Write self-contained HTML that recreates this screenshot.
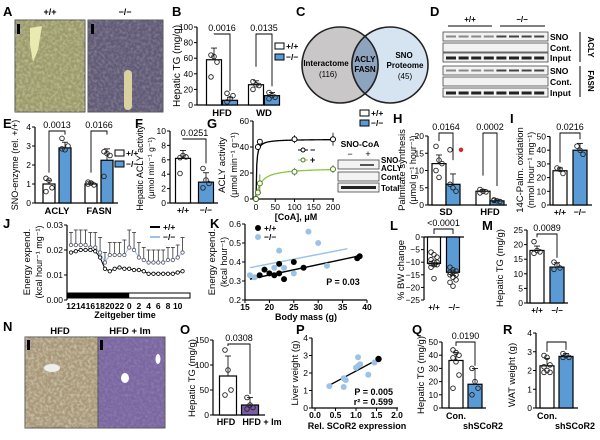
<!DOCTYPE html>
<html><head><meta charset="utf-8"><style>
html,body{margin:0;padding:0;background:#fff;}
svg{display:block;font-family:"Liberation Sans",Arial,sans-serif;}
</style></head><body>
<svg id="fig" width="600" height="440" viewBox="0 0 600 440">
<defs>
<filter id="tex" x="0" y="0" width="100%" height="100%"><feTurbulence type="fractalNoise" baseFrequency="0.35" numOctaves="2" seed="3"/><feColorMatrix type="matrix" values="0 0 0 0 1  0 0 0 0 1  0 0 0 0 0.8  0 0 0 -1.4 0.9"/></filter>
</defs>
<g id="hist">
<rect x="15" y="20" width="70" height="92" fill="#9a9a6a" stroke="#555"/>
<rect x="15" y="20" width="70" height="92" filter="url(#tex)" opacity="0.5"/>
<path d="M30 28 L42 26 L38 50 L33 62 L30 45 Z" fill="#e8eab0"/>
<rect x="88" y="20" width="75" height="92" fill="#615a78" stroke="#555"/>
<rect x="88" y="20" width="75" height="92" filter="url(#tex)" opacity="0.3"/>
<rect x="124" y="70" width="8" height="40" rx="4" fill="#d9d2a0"/>
<rect x="25" y="337" width="73" height="91" fill="#a8977a" stroke="#555"/>
<rect x="25" y="337" width="73" height="91" filter="url(#tex)" opacity="0.6"/>
<ellipse cx="52" cy="368" rx="8" ry="4" fill="#eee"/>
<rect x="98" y="337" width="67" height="91" fill="#7a66a2" stroke="#555"/>
<rect x="98" y="337" width="67" height="91" filter="url(#tex)" opacity="0.2"/>
<ellipse cx="125" cy="378" rx="4" ry="5" fill="#fff"/>
<ellipse cx="158" cy="359" rx="2.5" ry="5" fill="#fff"/>
<rect x="17" y="24" width="3" height="10" fill="#000"/>
<rect x="91" y="24" width="3" height="10" fill="#000"/>
<rect x="27" y="340" width="3" height="10" fill="#000"/>
<rect x="100" y="340" width="3" height="10" fill="#000"/>
</g>
</svg>
<script>
// ---------- data ----------
const bCats=["HFD","WD"];
const bMeansWT=[58,26], bMeansKO=[6,12], bErrWT=[15,5], bErrKO=[4,4];
const bDotsWT=[[64,62,55,36],[30,26,25,20]], bDotsKO=[[4,8,12,15],[16,12,10,8]];
const bP=["0.0016","0.0135"];
const eCats=["ACLY","FASN"];
const eMeansWT=[1.0,1.0], eMeansKO=[2.9,2.25], eErrWT=[0.2,0.1], eErrKO=[0.3,0.6];
const eDotsWT=[[1.3,1.2,0.8,0.6],[1.1,1.05,0.95,1.0]], eDotsKO=[[3.4,2.8,3.0,2.85],[2.7,2.6,2.5,1.4]];
const eP=["0.0013","0.0166"];
const fMeans=[6.2,2.9], fErr=[1.1,1.3], fDots=[[6.3,6.6,6.4,4.1],[4.8,3.2,2.7,2.1]];
const gX=[0,5,10,100,200], gMinus=[0,40,44,46,46], gPlus=[0,5,12,21,23], gErrMinus=[0,2,2,3,5], gErrPlus=[0,2,7,3,3];
const gVmax=[46,24], gKm=[1.5,12];
const hCats=["SD","HFD"];
const hMeansWT=[12,4], hMeansKO=[6,1.2], hErrWT=[2.5,0.5], hErrKO=[3,0.3];
const hDotsWT=[[17,13,12,10,8],[4.5,4,3.8,3.5]], hDotsKO=[[6,5,4,16],[1.5,1.2,1.0,1.3]];
const hP=["0.0164","0.0002"];
const iMeans=[25,40], iErr=[2,5], iDots=[[27,26,23],[43,40,37]];
const jTicks=["12","14","16","18","20","22","0","2","4","6","8","10"];
const jWT=[0.019,0.0195,0.02,0.02,0.02,0.0195,0.017,0.0125,0.0115,0.0125,0.013,0.0125,0.0125,0.012,0.012,0.0115,0.0105,0.0105,0.0105,0.0105,0.0105,0.0105,0.011,0.0115];
const jKO=[0.022,0.022,0.022,0.022,0.021,0.021,0.019,0.015,0.018,0.018,0.018,0.018,0.021,0.02,0.017,0.016,0.015,0.015,0.015,0.015,0.016,0.016,0.017,0.019];
const jErrKO=[0.005,0.006,0.006,0.006,0.006,0.006,0.006,0.004,0.005,0.005,0.005,0.006,0.007,0.007,0.006,0.005,0.005,0.005,0.005,0.005,0.005,0.005,0.005,0.006];
const kMassWT=[18,19,20,21,22,22,23,25,27,38.5,38], kEEWT=[0.33,0.36,0.34,0.33,0.34,0.39,0.31,0.4,0.37,0.43,0.42];
const kMassKO=[16,17,21,22,23,25,28,30,31.8], kEEKO=[0.33,0.32,0.37,0.46,0.37,0.34,0.56,0.5,0.38];
const kFitWT=[[16,0.31],[38,0.43]], kFitKO=[[16,0.37],[36,0.47]];
const lMeans=[-10.5,-14], lErr=[1,1.2];
const lDots=[[-6,-7,-8,-9,-10,-10,-10.5,-11,-11,-12,-16.5],[-12,-13,-13.5,-14,-14,-15,-15,-16,-17,-18,-19.5]];
const mMeans=[18,12.3], mErr=[1.5,1.5], mDots=[[21,18,17.5,17],[14,13,12,11.5]];
const oMeans=[78,20], oErr=[40,15], oDots=[[130,90,50,40],[35,20,15,12]];
const pX=[0.35,0.7,0.7,0.75,1.0,1.05,1.05,1.1,1.3,1.45], pY=[1.25,1.2,1.7,1.6,2.3,2.9,2.4,2.5,1.9,2.6];
const pBlackX=[1.55], pBlackY=[2.8], pFit=[[0.35,1.3],[1.55,2.8]];
const qMeans=[36,18], qErr=[6,12], qDots=[[44,42,40,38,35,25,15],[30,20,15,10]];
const rMeans=[2.25,2.75], rErr=[0.4,0.15], rDots=[[2.8,2.7,2.3,2.2,2.0,1.9,1.9],[2.9,2.8,2.7,2.7]];

// ---------- helpers ----------
const S=document.getElementById('fig'), NS='http://www.w3.org/2000/svg';
const BLUE='#5b9bd5', LBLUE='#9cc3e6';
function mk(tag,attrs,name){const e=document.createElementNS(NS,tag);for(const k in attrs)e.setAttribute(k,attrs[k]);


S.appendChild(e);return e;}
function line(x1,y1,x2,y2,name,c,w){return mk('line',{x1,y1,x2,y2,stroke:c||'#000','stroke-width':w||1},name);}
function txt(x,y,s,name,o){o=o||{};const t=mk('text',{x,y,'font-size':o.fs||9,'text-anchor':o.a||'middle','font-weight':o.b?'bold':'normal',fill:o.c||'#000'},name);if(o.r)t.setAttribute('transform','rotate(-90 '+x+' '+y+')');t.textContent=s;return t;}
function letter(x,y,s){txt(x,y,s,'panel-label-'+s.toLowerCase(),{fs:13,b:true,a:'start'});}
function yAxis(x,ticks,sy,name,fmt){line(x,sy(ticks[0]),x,sy(ticks[ticks.length-1]),name+'-y-axis','#000',1.2);
ticks.forEach(v=>{line(x-3,sy(v),x,sy(v),name+'-y-tick');txt(x-4,sy(v)+3,fmt?fmt(v):String(v),name+'-y-tick-label',{a:'end',fs:8.5});});}
function bar(cx,w,v,err,dots,sy,fill,name){const y0=sy(0),y=sy(v);
mk('rect',{x:cx-w/2,y:Math.min(y,y0),width:w,height:Math.abs(y0-y),fill:fill,stroke:'#000','stroke-width':1.2},name);
const ye=v>=0?sy(v+err):sy(v-err);line(cx,y,cx,ye,name+'-error-bar','#000',0.8);line(cx-3,ye,cx+3,ye,name+'-error-cap','#000',0.8);
dots.forEach((d,i)=>{const dx=((i%3)-1)*3;mk('circle',{cx:cx+dx,cy:sy(d),r:2.3,fill:'none',stroke:'#222','stroke-width':0.9},name+'-dot');});}
function bracket(x1,x2,y,yl1,yl2,p,name){mk('polyline',{points:`${x1},${yl1} ${x1},${y} ${x2},${y} ${x2},${yl2}`,fill:'none',stroke:'#000','stroke-width':0.9},name+'-bracket');if(p)txt((x1+x2)/2,y-3,p,name+'-p-value',{fs:9});}
function legendBox(x,y,fill,label,name){mk('rect',{x:x,y:y-6,width:9,height:6,fill:fill,stroke:'#000','stroke-width':1},name+'-swatch');txt(x+11,y,label,name+'-label',{a:'start',fs:8.5,b:true});}

// ---------- A ----------
letter(3,16,'A');txt(50,15,'+/+','a-genotype-wt',{b:true});txt(125,15,'−/−','a-genotype-ko',{b:true});
// ---------- B ----------
letter(172,16,'B');
const syB=v=>105-v*0.78;
yAxis(197,[0,20,40,60,80,100],syB,'b');line(197,105,280,105,'b-x-axis','#000',1.2);
txt(180,66,'Hepatic TG (mg/g)','b-y-title',{r:true,fs:10});
bCats.forEach((c,i)=>{const cx=214+i*42;bar(cx,15,bMeansWT[i],bErrWT[i],bDotsWT[i],syB,'#fff','b-bar-wt-'+c.toLowerCase());
bar(cx+16,15,bMeansKO[i],bErrKO[i],bDotsKO[i],syB,BLUE,'b-bar-ko-'+c.toLowerCase());
txt(cx+8,116,c,'b-x-label',{fs:9.5,b:true});bracket(cx,cx+16,34,syB(bMeansWT[i]+bErrWT[i]+18),syB(bMeansKO[i]+bErrKO[i]+8),bP[i],'b-'+c.toLowerCase());});
legendBox(275,49,'#fff','+/+','b-legend-wt');legendBox(275,60,BLUE,'−/−','b-legend-ko');
// ---------- C ----------
letter(296,16,'C');
mk('circle',{cx:340,cy:65,r:38,fill:'#c9c7c7',stroke:'#222','stroke-width':1.6},'venn-interactome');
mk('circle',{cx:390,cy:65,r:38,fill:'#d6e3f1',stroke:'#222','stroke-width':1.6},'venn-sno-proteome');
mk('path',{d:'M365 36.3 A38 38 0 0 1 365 93.7 A38 38 0 0 1 365 36.3 Z',fill:'#8ea3bd',stroke:'#222','stroke-width':1.6},'venn-overlap');
txt(326,66,'Interactome','venn-label-interactome',{fs:8,b:true});txt(328,77,'(116)','venn-count-interactome',{fs:8});
txt(365,62,'ACLY','venn-label-acly',{fs:8,b:true});txt(365,72,'FASN','venn-label-fasn',{fs:8,b:true});
txt(404,58,'SNO','venn-label-sno',{fs:8,b:true});txt(405,68,'Proteome','venn-label-proteome',{fs:8,b:true});txt(405,79,'(45)','venn-count-sno',{fs:8});
// ---------- D ----------
letter(430,16,'D');
line(448,26,492,26,'d-wt-line');line(500,26,545,26,'d-ko-line');txt(470,22,'+/+','d-genotype-wt',{b:true,fs:8});txt(522,22,'−/−','d-genotype-ko',{b:true,fs:8});
const dRows=['SNO','Cont.','Input','SNO','Cont.','Input'], dYs=[32,43,53,66,77,88];
dRows.forEach((r,i)=>{mk('rect',{x:443,y:dYs[i],width:105,height:9,fill:'#f2f2f2',stroke:'#444','stroke-width':0.8},'d-blot-'+i);
txt(550,dYs[i]+8,r,'d-row-label',{a:'start',fs:8.5,b:true});
if(r!=='Cont.'){for(let k=0;k<8;k++){mk('rect',{x:446+k*12.6,y:dYs[i]+3.5,width:10,height:r==='Input'?3:2,fill:r==='Input'?'#222':(k>3?'#444':'#888')},'d-band');}}});
line(580,32,580,62,'d-acly-bar');line(580,66,580,97,'d-fasn-bar');
txt(588,47,'ACLY','d-acly-label',{fs:8,b:true}).setAttribute('transform','rotate(90 588 47)');
txt(588,81,'FASN','d-fasn-label',{fs:8,b:true}).setAttribute('transform','rotate(90 588 81)');
// ---------- E ----------
letter(3,128,'E');
const syE=v=>203-v*19;
yAxis(35,[0,1,2,3,4],syE,'e');line(35,203,118,203,'e-x-axis','#000',1.2);
txt(18,165,'SNO-enzyme (rel. +/+)','e-y-title',{r:true,fs:9});
eCats.forEach((c,i)=>{const cx=49+i*42;bar(cx,12,eMeansWT[i],eErrWT[i],eDotsWT[i],syE,'#fff','e-bar-wt-'+c.toLowerCase());
bar(cx+16,12,eMeansKO[i],eErrKO[i],eDotsKO[i],syE,BLUE,'e-bar-ko-'+c.toLowerCase());
txt(cx+8,214,c,'e-x-label',{fs:9.5,b:true});bracket(cx,cx+16,131,syE(1.6),syE(3.6),eP[i],'e-'+c.toLowerCase());});
legendBox(115,156,'#fff','+/+','e-legend-wt');legendBox(115,167,BLUE,'−/−','e-legend-ko');
// ---------- F ----------
letter(135,128,'F');
const syF=v=>203-v*7.2;
yAxis(170,[0,2,4,6,8,10],syF,'f');line(170,203,218,203,'f-x-axis','#000',1.2);
txt(143,168,'Hepatic ACLY activity','f-y-title',{r:true,fs:9});txt(154,168,'(μmol min⁻¹ g⁻¹)','f-y-title-units',{r:true,fs:8.5});
bar(183,15,fMeans[0],fErr[0],fDots[0],syF,'#fff','f-bar-wt');bar(206,15,fMeans[1],fErr[1],fDots[1],syF,BLUE,'f-bar-ko');
txt(183,213,'+/+','f-x-label-wt',{fs:8.5,b:true});txt(206,213,'−/−','f-x-label-ko',{fs:8.5,b:true});
bracket(183,206,139,syF(9),syF(5.5),'0.0251','f');
// ---------- G ----------
letter(207,128,'G');
const sxG=v=>256+v*0.385, syG=v=>199-v*1.3;
yAxis(253,[0,20,40,60],syG,'g');line(253,199,334,199,'g-x-axis','#000',1.2);
[0,50,100,150,200].forEach(v=>{line(sxG(v),199,sxG(v),202,'g-x-tick');txt(sxG(v),210,String(v),'g-x-tick-label',{fs:8.5});});
txt(296,220,'[CoA], μM','g-x-title',{fs:9,b:true});
txt(225,165,'ACLY activity','g-y-title',{r:true,fs:9.5});txt(237,165,'(μmol min⁻¹ g⁻¹)','g-y-title-units',{r:true,fs:9});
[[gVmax[0],gKm[0],'#000','g-fit-minus'],[gVmax[1],gKm[1],'#8dc63f','g-fit-plus']].forEach(f=>{let d='';for(let x=0;x<=200;x+=2){d+=(x?' L':'M')+sxG(x)+' '+syG(f[0]*x/(f[1]+x));}mk('path',{d,fill:'none',stroke:f[2],'stroke-width':1.3},f[3]);});
gX.forEach((x,i)=>{[[gMinus,gErrMinus,'#000','g-point-minus'],[gPlus,gErrPlus,'#4a7a1a','g-point-plus']].forEach(s=>{const y=syG(s[0][i]);
line(sxG(x),syG(s[0][i]-s[1][i]),sxG(x),syG(s[0][i]+s[1][i]),s[3]+'-err',s[2],0.8);
mk('circle',{cx:sxG(x),cy:y,r:2.5,fill:'#fff',stroke:s[2],'stroke-width':1},s[3]);});});
line(298,150,308,150,'g-legend-minus-line');mk('circle',{cx:303,cy:150,r:2,fill:'#fff',stroke:'#000'},'g-legend-minus-dot');txt(310,153,'−','g-legend-minus-label',{a:'start',fs:9,b:true});
line(298,160,308,160,'g-legend-plus-line','#8dc63f');mk('circle',{cx:303,cy:160,r:2,fill:'#fff',stroke:'#4a7a1a'},'g-legend-plus-dot');txt(310,163,'+','g-legend-plus-label',{a:'start',fs:9,b:true});
txt(360,147,'SNO-CoA','g-inset-title',{fs:8.5,b:true});txt(350,157,'−','g-inset-minus',{fs:9});txt(368,157,'+','g-inset-plus',{fs:9});
[[160,'SNO-','ACLY'],[172,'Cont.'],[183,'Total']].forEach((r,i)=>{mk('rect',{x:338,y:r[0],width:41,height:9,fill:'#f3f3f3',stroke:'#444','stroke-width':0.8},'g-inset-blot');
txt(381,r[0]+(i?8:3),r[1],'g-inset-label',{a:'start',fs:8,b:true});if(r[2])txt(381,r[0]+11,r[2],'g-inset-label',{a:'start',fs:8,b:true});});
mk('rect',{x:360,y:164,width:14,height:2,fill:'#555'},'g-inset-band');mk('rect',{x:341,y:186,width:35,height:3,fill:'#222'},'g-inset-band-total');
// ---------- H ----------
letter(393,123,'H');
legendBox(360,116,'#fff','+/+','h-legend-wt');legendBox(360,126,BLUE,'−/−','h-legend-ko');
const syH=v=>205-v*3.45;
yAxis(428,[0,5,10,15,20],syH,'h');line(428,205,507,205,'h-x-axis','#000',1.2);
txt(405,170,'Palmitate synthesis','h-y-title',{r:true,fs:9.5});txt(416,170,'(μmol g⁻¹ hour⁻¹)','h-y-title-units',{r:true,fs:9});
hCats.forEach((c,i)=>{const cx=439+i*44;bar(cx,14,hMeansWT[i],hErrWT[i],hDotsWT[i],syH,'#fff','h-bar-wt-'+c.toLowerCase());
bar(cx+14,14,hMeansKO[i],hErrKO[i],hDotsKO[i],syH,BLUE,'h-bar-ko-'+c.toLowerCase());
txt(cx+7,215,c,'h-x-label',{fs:9.5,b:true});bracket(cx,cx+14,133,syH(hMeansWT[i]+hErrWT[i]+4),syH(hMeansKO[i]+hErrKO[i]+4),hP[i],'h-'+c.toLowerCase());});
mk('circle',{cx:461,cy:syH(hDotsKO[0][3]),r:2.2,fill:'#e02020'},'h-outlier-dot');
// ---------- I ----------
letter(510,123,'I');
const syI=v=>205-v*1.37;
yAxis(550,[0,10,20,30,40,50],syI,'i');line(550,205,592,205,'i-x-axis','#000',1.2);
txt(523,170,'14C-Palm. oxidation','i-y-title',{r:true,fs:9.5});txt(534,170,'(nmol hour⁻¹ mg⁻¹)','i-y-title-units',{r:true,fs:9});
bar(560,14,iMeans[0],iErr[0],iDots[0],syI,'#fff','i-bar-wt');bar(580,14,iMeans[1],iErr[1],iDots[1],syI,BLUE,'i-bar-ko');
txt(560,215,'+/+','i-x-label-wt',{fs:8.5,b:true});txt(580,215,'−/−','i-x-label-ko',{fs:8.5,b:true});
bracket(560,580,133,syI(31),syI(48),'0.0216','i');
// ---------- J ----------
letter(3,228,'J');
const sxJ=i=>71+i*4.85, syJ=v=>300-v*2500;
yAxis(67,[0,0.01,0.02,0.03],syJ,'j',v=>v.toFixed(2));
txt(30,262,'Energy expend.','j-y-title',{r:true,fs:9.5});txt(42,262,'(kcal hour⁻¹ mg⁻¹)','j-y-title-units',{r:true,fs:9});
mk('rect',{x:68,y:293,width:122,height:5,fill:'#fff',stroke:'#000','stroke-width':1},'j-light-bar');
mk('rect',{x:68,y:293,width:sxJ(12)-68,height:5,fill:'#000'},'j-dark-bar');
jTicks.forEach((t,k)=>txt(sxJ(k*2),309,t,'j-x-tick-label',{fs:8.5,b:true}));
txt(125,318,'Zeitgeber time','j-x-title',{fs:9,b:true});
jKO.forEach((v,i)=>{line(sxJ(i),syJ(v),sxJ(i),syJ(v+jErrKO[i]),'j-ko-err','#333',0.8);line(sxJ(i)-2,syJ(v+jErrKO[i]),sxJ(i)+2,syJ(v+jErrKO[i]),'j-ko-cap','#333',0.8);});
[[jKO,LBLUE,'j-line-ko'],[jWT,'#000','j-line-wt']].forEach(s=>{mk('polyline',{points:s[0].map((v,i)=>sxJ(i)+','+syJ(v)).join(' '),fill:'none',stroke:s[1],'stroke-width':1},s[2]);
s[0].forEach((v,i)=>mk('circle',{cx:sxJ(i),cy:syJ(v),r:1.7,fill:'#fff',stroke:s[2]==='j-line-ko'?'#556':'#000','stroke-width':0.8},s[2]+'-point'));});
line(150,227,160,227,'j-legend-wt-line','#000',2);txt(163,230,'+/+','j-legend-wt',{a:'start',fs:8.5,b:true});
line(150,237,160,237,'j-legend-ko-line',LBLUE,2);txt(163,240,'−/−','j-legend-ko',{a:'start',fs:8.5,b:true});
// ---------- K ----------
letter(210,228,'K');
const sxK=v=>245+(v-15)*4.88, syK=v=>300-(v-0.2)*190;
yAxis(245,[0.2,0.3,0.4,0.5,0.6],syK,'k',v=>v.toFixed(1));line(245,300,367,300,'k-x-axis','#000',1.2);
[15,20,25,30,35,40].forEach(v=>{line(sxK(v),300,sxK(v),303,'k-x-tick');txt(sxK(v),310,String(v),'k-x-tick-label',{fs:8.5,b:true});});
txt(306,320,'Body mass (g)','k-x-title',{fs:9,b:true});
txt(215,262,'Energy expend.','k-y-title',{r:true,fs:9.5});txt(227,262,'(kcal hour⁻¹)','k-y-title-units',{r:true,fs:9});
line(sxK(kFitKO[0][0]),syK(kFitKO[0][1]),sxK(kFitKO[1][0]),syK(kFitKO[1][1]),'k-fit-ko',LBLUE,1.5);
line(sxK(kFitWT[0][0]),syK(kFitWT[0][1]),sxK(kFitWT[1][0]),syK(kFitWT[1][1]),'k-fit-wt','#000',1.5);
kMassKO.forEach((m,i)=>mk('circle',{cx:sxK(m),cy:syK(kEEKO[i]),r:3,fill:LBLUE},'k-point-ko'));
kMassWT.forEach((m,i)=>mk('circle',{cx:sxK(m),cy:syK(kEEWT[i]),r:3,fill:'#000'},'k-point-wt'));
mk('circle',{cx:258,cy:228,r:3,fill:'#000'},'k-legend-wt-dot');txt(264,231,'+/+','k-legend-wt',{a:'start',fs:8.5,b:true});
mk('circle',{cx:258,cy:237,r:3,fill:LBLUE},'k-legend-ko-dot');txt(264,240,'−/−','k-legend-ko',{a:'start',fs:8.5,b:true});
txt(343,285,'P = 0.03','k-p-value',{fs:9,b:true});
// ---------- L ----------
letter(390,230,'L');
const syL=v=>237-v*2.52;
yAxis(424,[0,-5,-10,-15,-20,-25],syL,'l',v=>v?'−'+(-v):'0');line(424,237,464,237,'l-x-axis','#000',1.2);
txt(404,270,'% BW change','l-y-title',{r:true,fs:9.5});
bar(434,13,lMeans[0],lErr[0],lDots[0],syL,'#fff','l-bar-wt');bar(453,13,lMeans[1],lErr[1],lDots[1],syL,BLUE,'l-bar-ko');
txt(434,310,'+/+','l-x-label-wt',{fs:8,b:true});txt(454,310,'−/−','l-x-label-ko',{fs:8,b:true});
bracket(434,453,229,234,234,'<0.0001','l');
// ---------- M ----------
letter(482,230,'M');
const syM=v=>303-v*2.92;
yAxis(527,[0,5,10,15,20,25],syM,'m');line(527,303,568,303,'m-x-axis','#000',1.2);
txt(503,268,'Hepatic TG (mg/g)','m-y-title',{r:true,fs:9.5});
bar(537,14,mMeans[0],mErr[0],mDots[0],syM,'#fff','m-bar-wt');bar(557,14,mMeans[1],mErr[1],mDots[1],syM,BLUE,'m-bar-ko');
txt(537,313,'+/+','m-x-label-wt',{fs:8,b:true});txt(557,313,'−/−','m-x-label-ko',{fs:8,b:true});
bracket(537,557,234,syM(22.5),syM(15.5),'0.0089','m');
// ---------- N ----------
letter(3,331,'N');txt(60,334,'HFD','n-label-hfd',{fs:9.5,b:true});txt(130,334,'HFD + Im','n-label-hfd-im',{fs:9.5,b:true});
// ---------- O ----------
letter(180,334,'O');
const syO=v=>415-v*0.5;
yAxis(213,[0,50,100,150],syO,'o');line(213,415,265,415,'o-x-axis','#000',1.2);
txt(195,378,'Hepatic TG (mg/g)','o-y-title',{r:true,fs:9.5});
bar(228,17,oMeans[0],oErr[0],oDots[0],syO,'#fff','o-bar-hfd');bar(250,17,oMeans[1],oErr[1],oDots[1],syO,'#7b5ca8','o-bar-hfd-im');
txt(226,425,'HFD','o-x-label-hfd',{fs:9,b:true});txt(262,425,'HFD + Im','o-x-label-hfd-im',{fs:9,b:true});
bracket(228,250,344,syO(138),syO(42),'0.0308','o');
// ---------- P ----------
letter(296,334,'P');
const sxP=v=>315+v*41, syP=v=>408-v*17.5;
yAxis(312,[0,1,2,3,4],syP,'p');line(312,408,398,408,'p-x-axis','#000',1.2);
[0,0.5,1,1.5,2].forEach(v=>{line(sxP(v),408,sxP(v),411,'p-x-tick');txt(sxP(v),418,v.toFixed(1),'p-x-tick-label',{fs:8.5,b:true});});
txt(357,429,'Rel. SCoR2 expression','p-x-title',{fs:9,b:true});
txt(298,373,'Liver weight (g)','p-y-title',{r:true,fs:9.5});
line(sxP(pFit[0][0]),syP(pFit[0][1]),sxP(pFit[1][0]),syP(pFit[1][1]),'p-fit-line','#000',1.3);
pX.forEach((x,i)=>mk('circle',{cx:sxP(x),cy:syP(pY[i]),r:3,fill:LBLUE},'p-point'));
pBlackX.forEach((x,i)=>mk('circle',{cx:sxP(x),cy:syP(pBlackY[i]),r:3.2,fill:'#000'},'p-point-black'));
txt(393,395,'P = 0.005','p-p-value',{a:'end',fs:9,b:true});txt(393,405,'r² = 0.599','p-r-squared',{a:'end',fs:9,b:true});
// ---------- Q ----------
letter(412,334,'Q');
const syQ=v=>408-v*1.32;
yAxis(442,[0,10,20,30,40,50],syQ,'q');line(442,408,486,408,'q-x-axis','#000',1.2);
txt(424,375,'Hepatic TG (mg/g)','q-y-title',{r:true,fs:9.5});
bar(456,14,qMeans[0],qErr[0],qDots[0],syQ,'#fff','q-bar-con');bar(475,14,qMeans[1],qErr[1],qDots[1],syQ,BLUE,'q-bar-sh');
txt(456,419,'Con.','q-x-label-con',{fs:9,b:true});txt(483,429,'shSCoR2','q-x-label-sh',{fs:9,b:true});
bracket(456,475,342,syQ(47),syQ(32),'0.0190','q');
// ---------- R ----------
letter(503,334,'R');
const syR=v=>408-v*18.75;
yAxis(536,[0,1,2,3,4],syR,'r');line(536,408,578,408,'r-x-axis','#000',1.2);
txt(515,375,'WAT weight (g)','r-y-title',{r:true,fs:9.5});
bar(547,14,rMeans[0],rErr[0],rDots[0],syR,'#fff','r-bar-con');bar(566,14,rMeans[1],rErr[1],rDots[1],syR,BLUE,'r-bar-sh');
txt(547,419,'Con.','r-x-label-con',{fs:9,b:true});txt(575,429,'shSCoR2','r-x-label-sh',{fs:9,b:true});
bracket(547,566,342,syR(3.0),syR(3.1),'','r');
</script>
</body></html>
